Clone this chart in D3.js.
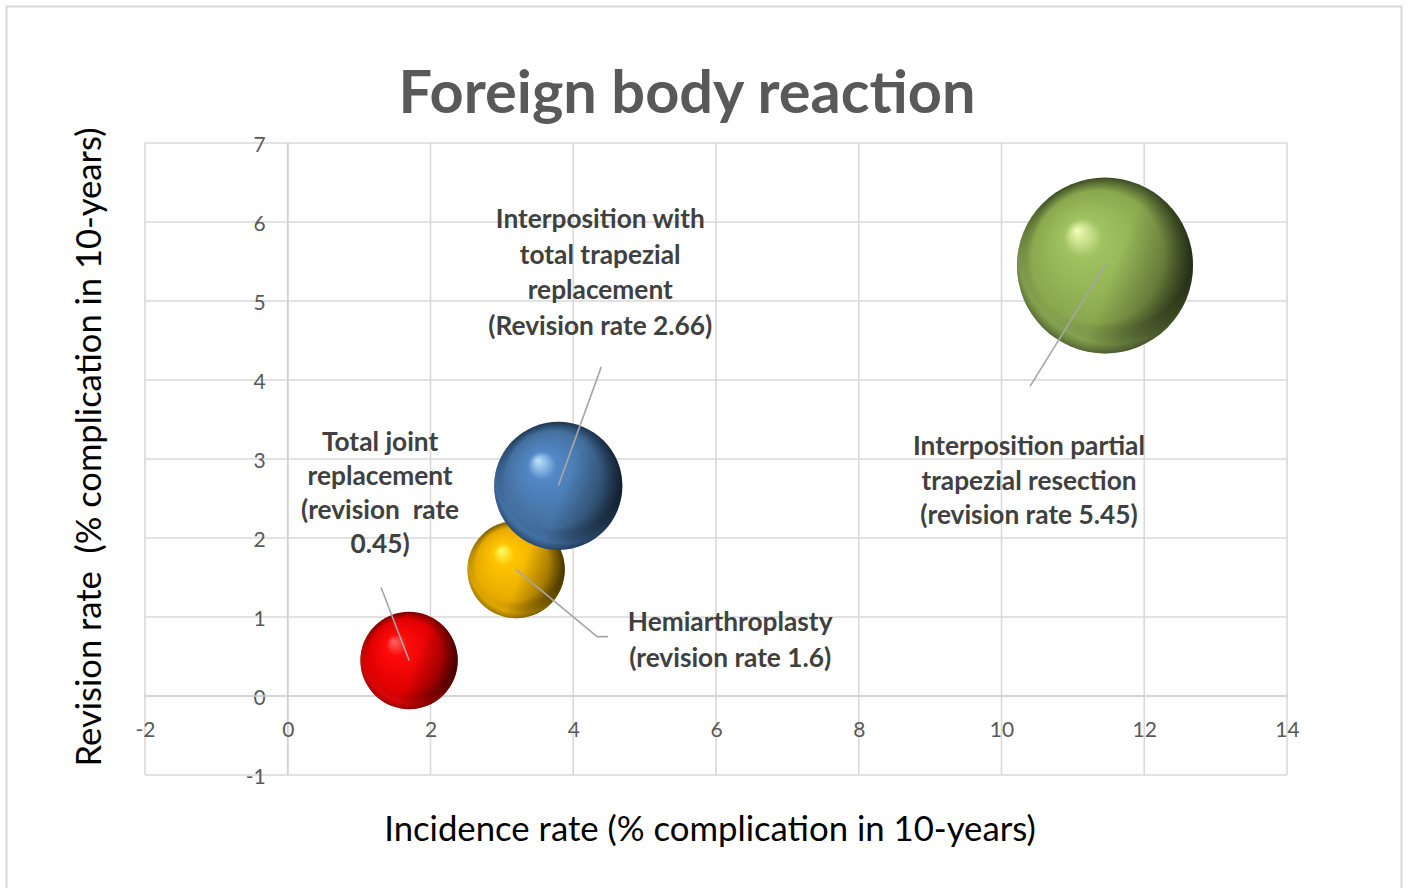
<!DOCTYPE html>
<html>
<head>
<meta charset="utf-8">
<script src="https://cdn.jsdelivr.net/npm/d3@7"></script>
<style>
  html, body { margin: 0; padding: 0; background: #fff; }
  svg { display: block; }
  text { font-family: Lato, "Open Sans", "DejaVu Sans", sans-serif; }
</style>
</head>
<body>
<svg id="chart" width="1408" height="888"></svg>
<script>
// ---------- data ----------
const categories = [
  "Total joint replacement",
  "Hemiarthroplasty",
  "Interposition with total trapezial replacement",
  "Interposition partial trapezial resection"
];
const incidenceRate = [1.70, 3.20, 3.79, 11.45];   // x
const revisionRate  = [0.45, 1.60, 2.66, 5.45];    // y
const bubbleSize    = [3.0, 3.0, 5.2, 9.8];        // bubble size (area)
const labelLines = [
  ["Total joint", "replacement", "(revision  rate", "0.45)"],
  ["Hemiarthroplasty", "(revision rate 1.6)"],
  ["Interposition with", "total trapezial", "replacement", "(Revision rate 2.66)"],
  ["Interposition partial", "trapezial resection", "(revision rate 5.45)"]
];
const xTicks = [-2, 0, 2, 4, 6, 8, 10, 12, 14];
const yTicks = [-1, 0, 1, 2, 3, 4, 5, 6, 7];
const titleText = "Foreign body reaction";
const xTitle = "Incidence rate (% complication in 10-years)";
const yTitle = "Revision rate  (% complication in 10-years)";

// ---------- styling / layout (not data) ----------
const palette = [
  { light: "#ff6a6a", base: "#ff0a0a", mid: "#e00000", dark: "#7a0000" },
  { light: "#ffff6a", base: "#ffc400", mid: "#e6aa00", dark: "#7a5a00" },
  { light: "#bfe6ff", base: "#5288c6", mid: "#44709f", dark: "#1e3450" },
  { light: "#f2ffb8", base: "#a0c260", mid: "#8aa84e", dark: "#3c4a24" }
];
// label placement relative to bubble centre (px): text centre x, first line y, leader path
const labelPlace = [
  { dx: -29, dy: -219, lh: 34,   leader: [[0, 0], [-28, -73]] },
  { dx: 214, dy: 51,   lh: 36,   leader: [[0, 0], [81, 67], [92, 67]] },
  { dx: 42,  dy: -268, lh: 35.7, leader: [[0, 0], [43, -119]] },
  { dx: -76, dy: 180,  lh: 34.5, leader: [[0, 0], [-75, 121]] }
];

const svg = d3.select("#chart");
const plot = { left: 145, right: 1287, top: 143, bottom: 775 };

const x = d3.scaleLinear().domain([-2, 14]).range([plot.left, plot.right]);
const y = d3.scaleLinear().domain([-1, 7]).range([plot.bottom, plot.top]);
const r = d3.scaleSqrt().domain([0, d3.max(bubbleSize)]).range([0, 88]);

// outer chart border
svg.append("rect")
  .attr("x", 6.5).attr("y", 6.5).attr("width", 1395).attr("height", 900)
  .attr("fill", "#fff").attr("stroke", "#d9d9d9").attr("stroke-width", 2);

// gridlines
const grid = svg.append("g").attr("stroke", "#d9d9d9").attr("stroke-width", 1.6);
grid.selectAll("line.v").data(xTicks).join("line")
  .attr("x1", d => x(d)).attr("x2", d => x(d))
  .attr("y1", plot.top).attr("y2", plot.bottom);
grid.selectAll("line.h").data(yTicks).join("line")
  .attr("x1", plot.left).attr("x2", plot.right)
  .attr("y1", d => y(d)).attr("y2", d => y(d));

// axes crossing at 0 (Excel style), using d3 axes for labels
const fmt = d => String(d);
const yAxis = d3.axisLeft(y).tickValues(yTicks).tickSize(0).tickPadding(22).tickFormat(fmt);
const xAxis = d3.axisBottom(x).tickValues(xTicks).tickSize(0).tickPadding(22).tickFormat(fmt);

const gy = svg.append("g").attr("transform", `translate(${x(0)},0)`).call(yAxis);
const gx = svg.append("g").attr("transform", `translate(0,${y(0)})`).call(xAxis);
[gx, gy].forEach(g => {
  g.select(".domain").attr("stroke", "#d0d0d0").attr("stroke-width", 1.6);
  g.selectAll("text").attr("fill", "#595959").attr("font-size", 21)
    .attr("font-family", "Lato, 'Open Sans', sans-serif");
});
gx.selectAll("text").attr("dy", null).attr("y", 0).attr("dominant-baseline", "central")
  .attr("transform", "translate(0,32)");
gy.selectAll("text").attr("dy", null).attr("dominant-baseline", "central");
gx.select(".domain").attr("d", `M${plot.left},0H${plot.right}`);
gy.select(".domain").attr("d", `M0,${plot.top}V${plot.bottom}`);

// gradients for 3D spheres
const defs = svg.append("defs");
palette.forEach((p, i) => {
  const g = defs.append("radialGradient").attr("id", "sph" + i)
    .attr("cx", "0.5").attr("cy", "0.5").attr("r", "0.5")
    .attr("fx", "0.34").attr("fy", "0.3");
  g.append("stop").attr("offset", "0").attr("stop-color", p.light);
  g.append("stop").attr("offset", "0.22").attr("stop-color", p.base);
  g.append("stop").attr("offset", "0.75").attr("stop-color", p.mid);
  g.append("stop").attr("offset", "1").attr("stop-color", p.dark);
  // rim reflection at bottom-left
  const rim = defs.append("radialGradient").attr("id", "rim" + i)
    .attr("cx", "0.55").attr("cy", "0.4").attr("r", "0.62");
  rim.append("stop").attr("offset", "0.74").attr("stop-color", p.base).attr("stop-opacity", 0);
  rim.append("stop").attr("offset", "0.88").attr("stop-color", p.base).attr("stop-opacity", 0.6);
  rim.append("stop").attr("offset", "1").attr("stop-color", p.base).attr("stop-opacity", 0.2);
});
const shade = defs.append("linearGradient").attr("id", "shade")
  .attr("x1", "0.1").attr("y1", "0.2").attr("x2", "1").attr("y2", "0.55");
shade.append("stop").attr("offset", "0.55").attr("stop-color", "#000").attr("stop-opacity", 0);
shade.append("stop").attr("offset", "1").attr("stop-color", "#000").attr("stop-opacity", 0.45);

const idx = d3.range(categories.length);
const bubbles = svg.append("g").selectAll("g").data(idx).join("g");
bubbles.append("circle")
  .attr("cx", i => x(incidenceRate[i])).attr("cy", i => y(revisionRate[i]))
  .attr("r", i => r(bubbleSize[i]))
  .attr("fill", i => `url(#sph${i})`);
bubbles.append("circle")
  .attr("cx", i => x(incidenceRate[i])).attr("cy", i => y(revisionRate[i]))
  .attr("r", i => r(bubbleSize[i]))
  .attr("fill", i => `url(#rim${i})`);
bubbles.append("circle")
  .attr("cx", i => x(incidenceRate[i])).attr("cy", i => y(revisionRate[i]))
  .attr("r", i => r(bubbleSize[i]))
  .attr("fill", "url(#shade)");

// leader lines
const line = d3.line();
svg.append("g").selectAll("path").data(idx).join("path")
  .attr("d", i => line(labelPlace[i].leader.map(([a, b]) => [x(incidenceRate[i]) + a, y(revisionRate[i]) + b])))
  .attr("fill", "none").attr("stroke", "#a6a6a6").attr("stroke-width", 1.6);

// data labels
const labels = svg.append("g").selectAll("text").data(idx).join("text")
  .attr("text-anchor", "middle").attr("font-weight", 700)
  .attr("fill", "#404040").attr("font-size", 23);
labels.each(function(i) {
  const t = d3.select(this);
  const cx = x(incidenceRate[i]) + labelPlace[i].dx;
  const cy = y(revisionRate[i]) + labelPlace[i].dy;
  labelLines[i].forEach((s, k) => {
    t.append("tspan").attr("x", cx).attr("y", cy + k * labelPlace[i].lh)
      .attr("dominant-baseline", "central").attr("xml:space", "preserve").text(s);
  });
});
// fit label font size so that the widest line matches the reference width
(function() {
  const ref = labels.filter(i => i === 3).selectAll("tspan").filter((d, k, n) => k === 0).node();
  const w = ref.getComputedTextLength();
  const fs = 23 * 232 / w;
  labels.attr("font-size", fs);
})();

// titles
function fit(sel, target, base) {
  sel.attr("font-size", base);
  const w = sel.node().getComputedTextLength();
  sel.attr("font-size", base * target / w);
}
const title = svg.append("text").attr("x", 687).attr("y", 113)
  .attr("text-anchor", "middle").attr("font-weight", 700).attr("fill", "#595959").text(titleText);
fit(title, 577, 56);

const xt = svg.append("text").attr("x", 710).attr("y", 841)
  .attr("text-anchor", "middle").attr("fill", "#000").text(xTitle);
fit(xt, 652, 30);

const yt = svg.append("text").attr("transform", "translate(101,447) rotate(-90)")
  .attr("text-anchor", "middle").attr("fill", "#000").attr("xml:space", "preserve").text(yTitle);
fit(yt, 639, 30);
</script>
</body>
</html>
